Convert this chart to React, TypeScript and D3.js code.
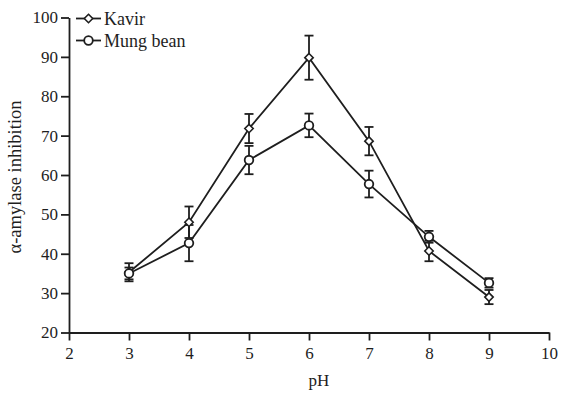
import React, { useEffect, useRef } from 'react';
import * as d3 from 'd3';

const phValues = [3, 4, 5, 6, 7, 8, 9];
const kavir = [35.3, 48.0, 71.8, 89.8, 68.6, 40.7, 29.0];
const kavirErr = [2.3, 4.0, 3.7, 5.6, 3.6, 2.6, 1.8];
const mung = [35.0, 42.7, 63.8, 72.6, 57.7, 44.3, 32.6];
const mungErr = [1.5, 4.6, 3.6, 3.0, 3.4, 1.5, 1.2];
const xTicks = [2, 3, 4, 5, 6, 7, 8, 9, 10];
const yTicks = [20, 30, 40, 50, 60, 70, 80, 90, 100];
const seriesNames = ['Kavir', 'Mung bean'];

const W = 561;
const H = 396;
const INK = '#1e1e1e';
const FONT = 'Liberation Serif, Times New Roman, serif';

const App = () => {
  const xAxisRef = useRef<SVGGElement>(null);
  const yAxisRef = useRef<SVGGElement>(null);

  const x = d3.scaleLinear().domain([2, 10]).range([69, 549]);
  const y = d3.scaleLinear().domain([20, 100]).range([332.5, 17.5]);

  useEffect(() => {
    const styleAxis = (g) => {
      g.attr('font-family', FONT).attr('font-size', 17);
      g.select('.domain').attr('stroke', INK).attr('stroke-width', 1.8);
      g.selectAll('.tick line').attr('stroke', INK).attr('stroke-width', 1.8);
      g.selectAll('.tick text').attr('fill', INK);
    };
    d3.select(xAxisRef.current)
      .call(d3.axisBottom(x).tickValues(xTicks).tickSize(8).tickSizeOuter(0).tickPadding(6).tickFormat(d3.format('d')))
      .call(styleAxis);
    d3.select(yAxisRef.current)
      .call(d3.axisLeft(y).tickValues(yTicks).tickSize(8).tickSizeOuter(0).tickPadding(3).tickFormat(d3.format('d')))
      .call(styleAxis);
  }, []);

  const line = d3.line<number>()
    .x((_, i) => x(phValues[i]))
    .y((d) => y(d));

  const diamond = (cx: number, cy: number, r = 4.2) =>
    `M${cx},${cy - r}L${cx + r},${cy}L${cx},${cy + r}L${cx - r},${cy}Z`;

  const errorBars = (vals: number[], errs: number[], key: string) =>
    vals.map((v, i) => {
      const cx = x(phValues[i]);
      const top = y(v + errs[i]);
      const bot = y(v - errs[i]);
      return (
        <g key={key + i} stroke={INK} strokeWidth={1.8}>
          <line x1={cx} x2={cx} y1={top} y2={bot} />
          <line x1={cx - 4.5} x2={cx + 4.5} y1={top} y2={top} />
          <line x1={cx - 4.5} x2={cx + 4.5} y1={bot} y2={bot} />
        </g>
      );
    });

  return (
    <svg width={W} height={H} style={{ display: 'block' }}>
      <style>{'body{margin:0}'}</style>
      <rect width={W} height={H} fill="#fff" />
      <g ref={xAxisRef} transform={`translate(0,${y(20)})`} />
      <g ref={yAxisRef} transform={`translate(${x(2)},0)`} />

      <path d={line(kavir) ?? ''} fill="none" stroke={INK} strokeWidth={1.8} />
      <path d={line(mung) ?? ''} fill="none" stroke={INK} strokeWidth={1.8} />
      {errorBars(kavir, kavirErr, 'k')}
      {errorBars(mung, mungErr, 'm')}
      {kavir.map((v, i) => (
        <path key={'kd' + i} d={diamond(x(phValues[i]), y(v))} fill="#fff" stroke={INK} strokeWidth={1.6} />
      ))}
      {mung.map((v, i) => (
        <circle key={'mc' + i} cx={x(phValues[i])} cy={y(v)} r={4.3} fill="#fff" stroke={INK} strokeWidth={1.8} />
      ))}

      {/* legend */}
      <g fontFamily={FONT} fontSize={18} fill={INK}>
        <line x1={76} x2={101} y1={18.5} y2={18.5} stroke={INK} strokeWidth={1.8} />
        <path d={diamond(88.5, 18.5)} fill="#fff" stroke={INK} strokeWidth={1.6} />
        <text x={104} y={24.5}>{seriesNames[0]}</text>
        <line x1={76} x2={101} y1={40.5} y2={40.5} stroke={INK} strokeWidth={1.8} />
        <circle cx={88.5} cy={40.5} r={4.3} fill="#fff" stroke={INK} strokeWidth={1.8} />
        <text x={104} y={46.5}>{seriesNames[1]}</text>
      </g>

      <text x={319} y={386} textAnchor="middle" fontFamily={FONT} fontSize={17} fill={INK}>pH</text>
      <text
        transform={`translate(21,${(y(20) + y(100)) / 2 + 2}) rotate(-90)`}
        textAnchor="middle"
        fontFamily={FONT}
        fontSize={18.5}
        fill={INK}
      >
        α-amylase inhibition
      </text>
    </svg>
  );
};

export default App;
